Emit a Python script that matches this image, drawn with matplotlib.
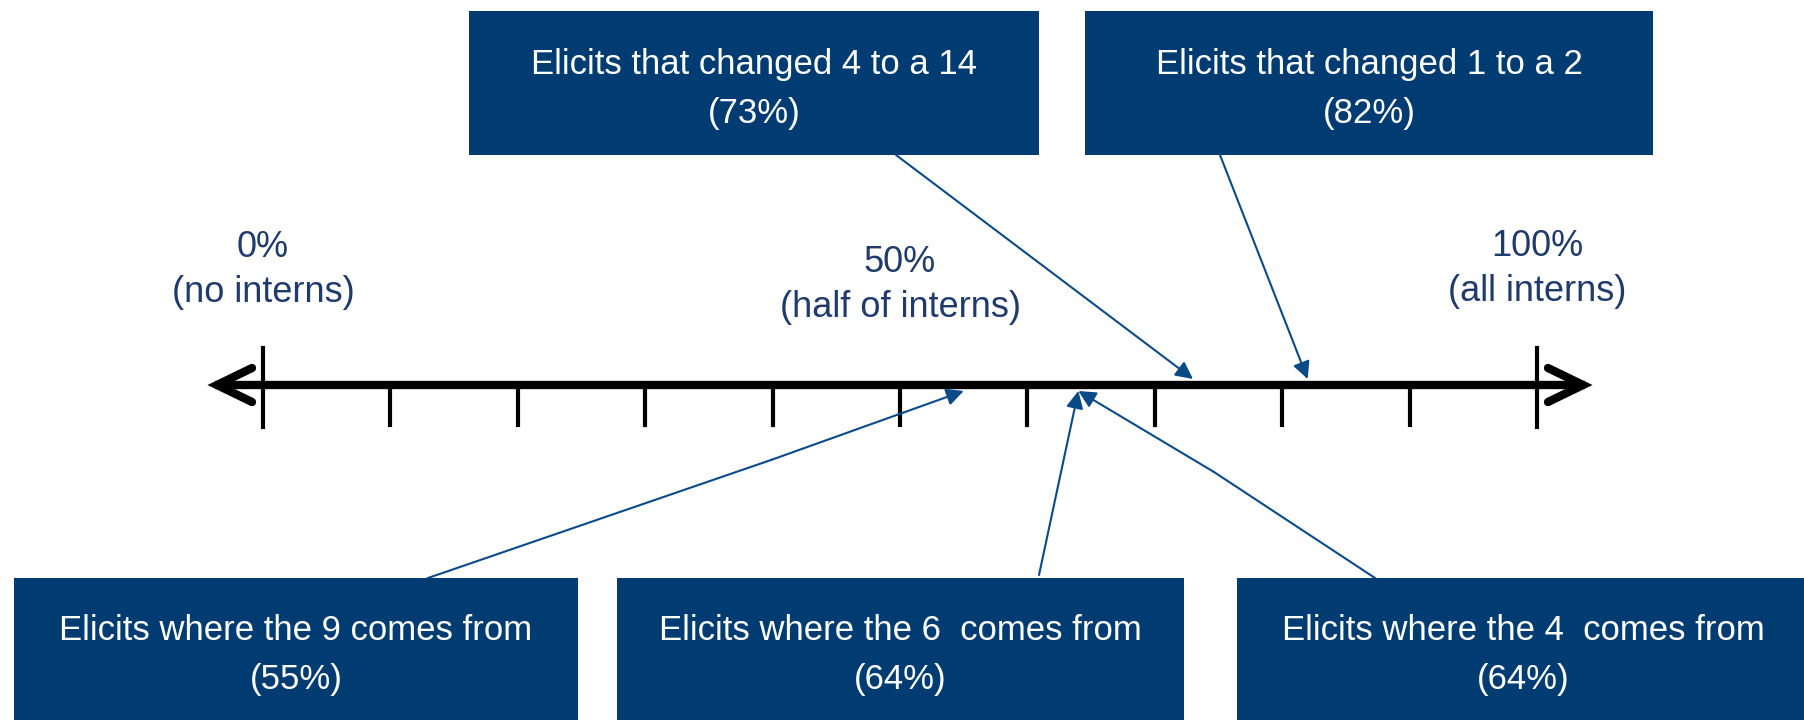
import matplotlib
matplotlib.use("Agg")
import matplotlib.pyplot as plt
from matplotlib.patches import Rectangle

# data
box_labels = ["Elicits that changed 4 to a 14", "Elicits that changed 1 to a 2",
              "Elicits where the 9 comes from", "Elicits where the 6  comes from",
              "Elicits where the 4  comes from"]
box_pcts = [73, 82, 55, 64, 64]
tick_pcts = [0, 10, 20, 30, 40, 50, 60, 70, 80, 90, 100]
scale_labels = ["0%\n(no interns)", "50%\n(half of interns)", "100%\n(all interns)"]
scale_pcts = [0, 50, 100]

navy = "#003C71"
arrow_col = "#0A4A86"
text_col = "#1F3A6B"
font = ["Liberation Sans", "DejaVu Sans"]

# 0% sits at pixel 263, 100% at pixel 1537
x0, x100 = 263, 1537
def px(p):
    # pixel -> percent
    return (p - x0) / (x100 - x0) * 100

fig = plt.figure(figsize=(18.04, 7.2), dpi=100)
ax = fig.add_axes([0, 0, 1, 1])
ax.set_xlim(px(0), px(1804))
ax.set_ylim(720, 0)
ax.axis("off")

line_y = 385

# number line
ax.plot([px(215), px(1585)], [line_y, line_y], color="black", lw=6, solid_capstyle="butt", zorder=3)
for t in tick_pcts:
    if t in (0, 100):
        ax.plot([t, t], [348, 427], color="black", lw=3, zorder=3)
    else:
        ax.plot([t, t], [line_y, 425], color="black", lw=3, zorder=3)
# arrow ends
ax.plot([px(252), px(217), px(252)], [368, line_y, 402], color="black", lw=6,
        solid_capstyle="round", solid_joinstyle="miter", zorder=3)
ax.plot([px(1548), px(1583), px(1548)], [368, line_y, 402], color="black", lw=6,
        solid_capstyle="round", solid_joinstyle="miter", zorder=3)

# scale labels
label_y = [270, 285, 269]
for lab, p, y in zip(scale_labels, scale_pcts, label_y):
    ax.text(p, y, lab, ha="center", va="center", fontsize=26, color=text_col,
            family=font, linespacing=1.4)

# boxes: (left, right, top, bottom) in pixels, arrow start, optional kink
boxes = [
    (469, 1039, 11, 155, (896, 155), None, line_y - 6),
    (1085, 1653, 11, 155, (1220, 155), None, line_y - 6),
    (14, 578, 578, 730, (428, 578), (771, 460), line_y + 6),
    (617, 1184, 578, 730, (1039, 575), None, line_y + 6),
    (1237, 1810, 578, 730, (1375, 578), (1214, 472), line_y + 6),
]
for lab, p, (l, r, t, b, start, kink, tip_y) in zip(box_labels, box_pcts, boxes):
    ax.add_patch(Rectangle((px(l), t), px(r) - px(l), b - t, facecolor=navy,
                           edgecolor="none", zorder=4))
    ty = (t + min(b, 720)) / 2 + 6
    ax.text(px((l + r) / 2), ty, lab + "\n(" + str(p) + "%)", ha="center", va="center",
            fontsize=25, color="white", family=font, linespacing=1.6, zorder=5)
    sx, sy = px(start[0]), start[1]
    if kink is not None:
        ax.plot([sx, px(kink[0])], [sy, kink[1]], color=arrow_col, lw=1.5, zorder=2)
        sx, sy = px(kink[0]), kink[1]
    ax.annotate("", xy=(p, tip_y), xytext=(sx, sy),
                arrowprops=dict(arrowstyle="-|>", color=arrow_col, lw=1.5,
                                mutation_scale=26, shrinkA=0, shrinkB=0), zorder=6)

fig.savefig("out.png", dpi=100)
